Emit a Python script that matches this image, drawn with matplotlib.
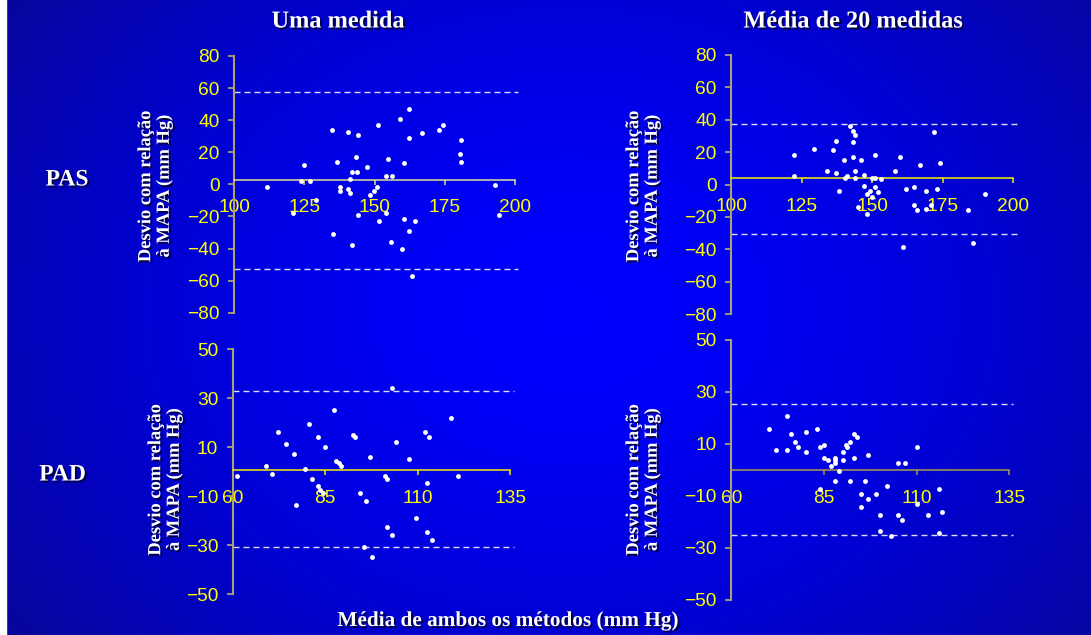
import numpy as np
import matplotlib
matplotlib.use("Agg")
import matplotlib.pyplot as plt
from matplotlib import patheffects as pe
from matplotlib.patches import Rectangle

# ---------------------------------------------------------------------------
# Bland-Altman data: mean of both methods (x) vs. deviation from MAPA (y)
# ---------------------------------------------------------------------------

# PAS, single measurement
pas_uma_media = [162.4, 159.2, 134.8, 140.4, 151.2, 144.1, 162.4, 166.9, 172.8, 174.4,
                 180.9, 180.4, 180.9, 124.8, 136.7, 143.4, 147.3, 154.9, 160.3, 142.0,
                 143.8, 154.2, 156.1, 141.3, 123.7, 126.8, 111.7, 137.7, 137.7, 140.4,
                 141.3, 150.8, 149.8, 148.3, 192.9, 129.0, 120.8, 144.1, 153.9, 194.2,
                 151.4, 160.3, 164.3, 162.4, 135.2, 141.9, 155.9, 159.8, 163.3]
pas_uma_desvio = [47.1, 40.8, 33.9, 32.9, 36.9, 30.6, 28.7, 31.9, 33.9, 36.9,
                  27.9, 18.7, 13.9, 11.9, 13.9, 16.9, 10.8, 15.8, 13.1, 7.9,
                  7.9, 5.0, 5.0, 3.1, 1.9, 1.9, -1.9, -1.7, -4.2, -3.1,
                  -5.2, -1.9, -4.2, -6.9, -0.2, -10.0, -18.1, -18.8, -18.1, -19.0,
                  -22.9, -21.3, -22.9, -29.0, -31.1, -38.1, -35.8, -40.2, -57.3]

# PAS, mean of 20 measurements
pas_20_media = [142.3, 143.3, 144.0, 143.3, 137.1, 129.3, 136.0, 122.2, 151.0, 140.1,
                143.3, 146.1, 160.0, 171.9, 167.1, 173.9, 134.1, 137.1, 144.0, 158.0,
                122.2, 140.3, 141.2, 144.0, 147.1, 150.0, 151.0, 153.1, 147.1, 151.0,
                138.1, 149.1, 148.2, 152.1, 149.9, 145.1, 148.1, 161.9, 164.9, 169.0,
                172.9, 164.9, 166.0, 169.0, 170.8, 184.0, 189.9, 160.9, 185.8]
pas_20_desvio = [36.3, 33.2, 30.4, 26.0, 27.0, 21.9, 21.3, 18.4, 18.4, 15.1,
                 17.0, 15.1, 17.0, 32.2, 12.0, 13.3, 8.1, 6.9, 8.1, 8.1,
                 5.2, 4.2, 5.2, 4.2, 6.0, 4.2, 4.2, 3.2, -0.9, -1.5,
                 -4.0, -3.8, -5.9, -4.8, -7.7, -13.9, -18.2, -3.0, -1.7, -3.8,
                 -3.0, -12.8, -15.9, -15.3, -12.8, -15.9, -5.9, -38.8, -35.9]

# PAD, single measurement
pad_uma_media = [103.0, 87.5, 119.0, 80.6, 72.2, 111.9, 113.0, 83.1, 92.5, 93.1,
                 74.5, 104.0, 85.0, 76.5, 97.0, 107.6, 87.9, 88.6, 89.2, 69.1,
                 79.6, 61.1, 70.6, 81.5, 101.1, 101.6, 121.0, 112.5, 83.1, 83.7,
                 84.3, 94.4, 96.0, 77.1, 109.4, 101.6, 103.0, 112.5, 113.9, 95.5,
                 97.5]
pad_uma_desvio = [34.2, 25.3, 22.0, 19.3, 16.3, 16.3, 14.3, 14.3, 15.1, 14.3,
                  11.2, 12.2, 10.2, 7.2, 6.1, 5.2, 4.4, 3.6, 2.2, 2.2,
                  1.2, -1.8, -0.8, -2.8, -1.8, -2.8, -1.8, -4.8, -5.8, -7.4,
                  -8.7, -8.8, -11.8, -13.7, -18.7, -22.7, -25.7, -24.7, -27.7, -30.6,
                  -34.6]

# PAD, mean of 20 measurements
pad_20_media = [75.0, 70.2, 76.0, 80.1, 83.1, 72.1, 75.0, 77.1, 78.1, 80.1,
                84.0, 84.9, 84.9, 86.1, 87.0, 88.1, 88.1, 88.1, 89.1, 90.1,
                90.1, 91.0, 91.2, 92.0, 93.0, 93.9, 93.0, 96.9, 110.0, 105.0,
                106.9, 88.1, 92.0, 96.0, 84.0, 102.0, 95.0, 96.9, 99.0, 95.0,
                100.0, 100.0, 103.0, 105.0, 106.0, 110.0, 113.0, 115.9, 116.9, 115.9]
pad_20_desvio = [20.8, 15.9, 13.8, 14.7, 15.9, 7.7, 7.7, 10.7, 8.8, 6.8,
                 8.8, 9.7, 4.7, 3.7, 1.7, 4.7, 3.7, 2.7, -0.4, 6.8,
                 3.7, 9.7, 8.8, 10.7, 13.8, 12.7, 4.7, 5.6, 8.8, 2.7,
                 2.7, -4.2, -4.2, -4.2, -7.4, -6.3, -9.4, -11.2, -9.4, -14.4,
                 -17.3, -23.3, -25.4, -17.3, -19.4, -13.2, -17.3, -7.4, -16.3, -24.4]

# Mean deviation (bias) and limits of agreement for each panel
vies = [3.0, 3.7, 0.6, 0.1]
limite_sup = [57.5, 37.1, 32.8, 25.4]
limite_inf = [-52.5, -30.3, -30.7, -24.9]

# Axis ticks
ticks_x_pas = [100, 125, 150, 175, 200]
ticks_y_pas = [-80, -60, -40, -20, 0, 20, 40, 60, 80]
ticks_x_pad = [60, 85, 110, 135]
ticks_y_pad = [-50, -30, -10, 10, 30, 50]

titulos = ["Uma medida", "Média de 20 medidas"]
linhas = ["PAS", "PAD"]
rotulo_y = "Desvio com relação\nà MAPA (mm Hg)"
rotulo_x = "Média de ambos os métodos (mm Hg)"

# ---------------------------------------------------------------------------
W, H = 1091, 635
fig = plt.figure(figsize=(W / 100, H / 100), dpi=100)

# radial blue backdrop
bg = fig.add_axes([0, 0, 1, 1], zorder=-10)
yy, xx = np.mgrid[0:H, 0:W]
r = np.hypot((xx - 570) / 640.0, (yy - 310) / 500.0)
blue = np.clip(255 - 88 * r ** 1.6, 0, 255) / 255.0
rg = np.clip(7 * r ** 2 - 2, 0, 255) / 255.0
img = np.dstack([rg, rg, blue])
bg.imshow(img, aspect="auto", extent=[0, 1, 0, 1], origin="upper")
bg.set_axis_off()
fig.patches.append(Rectangle((0, 0), 6 / W, 1, transform=fig.transFigure,
                             color="white", zorder=5))


def px_axes(x0, x1, ytop, ybot):
    return fig.add_axes([x0 / W, 1 - ybot / H, (x1 - x0) / W, (ybot - ytop) / H])


paineis = [
    (px_axes(234.3, 515.0, 56.0, 312.7), pas_uma_media, pas_uma_desvio,
     ticks_x_pas, ticks_y_pas, "#e0e090"),
    (px_axes(731.0, 1013.3, 54.7, 314.3), pas_20_media, pas_20_desvio,
     ticks_x_pas, ticks_y_pas, "#f2f200"),
    (px_axes(232.7, 510.3, 349.0, 594.3), pad_uma_media, pad_uma_desvio,
     ticks_x_pad, ticks_y_pad, "#f2f200"),
    (px_axes(731.3, 1009.3, 340.0, 600.0), pad_20_media, pad_20_desvio,
     ticks_x_pad, ticks_y_pad, "#aa9c44"),
]

spine_y_color = "#aaa270"

for i, (ax, xs, ys, tx, ty, cor_vies) in enumerate(paineis):
    ax.set_facecolor("none")
    for s in ("top", "right"):
        ax.spines[s].set_visible(False)
    # horizontal axis drawn at the mean deviation
    ax.spines["bottom"].set_position(("data", vies[i]))
    ax.spines["bottom"].set_color(cor_vies)
    ax.spines["bottom"].set_linewidth(1.1)
    ax.spines["left"].set_color(spine_y_color)
    ax.spines["left"].set_linewidth(1.5)

    ax.set_xlim(tx[0], tx[-1])
    ax.set_ylim(ty[0], ty[-1])
    ax.set_xticks(tx)
    ax.set_yticks(ty)

    ax.tick_params(axis="both", labelsize=13.8, labelcolor="#ffff00",
                   labelfontfamily="Liberation Sans")
    ax.tick_params(axis="y", direction="out", length=4.5, width=1.3,
                   color=spine_y_color, pad=6.0)
    ax.tick_params(axis="x", direction="out", length=3.8, width=1.1,
                   color=cor_vies, pad=10.5)

    x_fim = tx[-1] + 0.012 * (tx[-1] - tx[0])
    for lim in (limite_sup[i], limite_inf[i]):
        ax.plot([tx[0], x_fim], [lim, lim], color="#dcdcff", lw=1.0,
                dashes=(4.3, 2.9), clip_on=False, zorder=2)

    ax.plot(xs, ys, "o", ms=3.5, color="white", mew=0, zorder=4, clip_on=False)

# text
sombra = [pe.withSimplePatchShadow(offset=(1.4, -1.4), shadow_rgbFace="#000018",
                                   alpha=0.75)]
serif_b = dict(family="Liberation Serif", weight="bold", color="white")

for xc, t in zip((338, 853), titulos):
    fig.text(xc / W, 1 - 22 / H, t, ha="center", va="center", size=17.5,
             path_effects=sombra, **serif_b)

for (xc, yc), t in zip(((67, 180), (62.5, 475)), linhas):
    fig.text(xc / W, 1 - yc / H, t, ha="center", va="center", size=17,
             path_effects=sombra, **serif_b)

for xc, yc in ((155, 186), (643, 186), (165, 479.5), (643, 479.5)):
    fig.text(xc / W, 1 - yc / H, rotulo_y, rotation=90, ha="center", va="center",
             multialignment="center", size=13.3, linespacing=1.1,
             path_effects=sombra, **serif_b)

fig.text(507.5 / W, 1 - 621 / H, rotulo_x, ha="center", va="center", size=15.3,
         path_effects=sombra, **serif_b)

fig.savefig("out.png", dpi=100)
